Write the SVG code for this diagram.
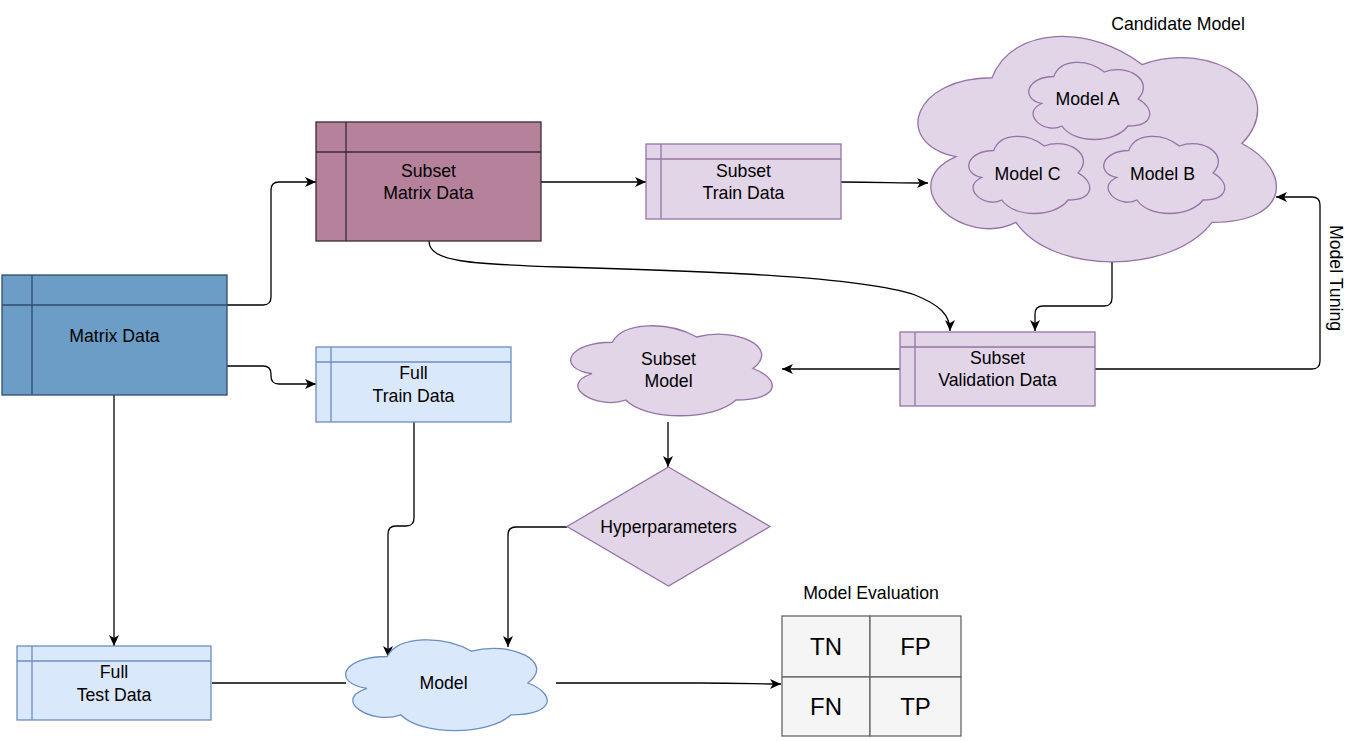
<svg xmlns="http://www.w3.org/2000/svg" width="1360" height="741" viewBox="0 0 1360 741">
<defs>
<style>
text{font-family:"Liberation Sans",Arial,Helvetica,sans-serif;font-size:17.7px;fill:#000;text-anchor:middle}
.big{font-size:24px}
.edge{fill:none;stroke:#000;stroke-width:1.3}
.arr{marker-end:url(#arrow)}
.blue{fill:#6c9dc6;stroke:#2f4c72;stroke-width:1.3}
.mauve{fill:#b5819b;stroke:#3b2a36;stroke-width:1.3}
.lblue{fill:#dae8fc;stroke:#6c8ebf;stroke-width:1.3}
.lpurp{fill:#e1d5e7;stroke:#9673a6;stroke-width:1.3}
.cm{fill:#f5f5f5;stroke:#666666;stroke-width:1.3}
.ln{fill:none}
</style>
<marker id="arrow" markerUnits="userSpaceOnUse" markerWidth="12" markerHeight="12" viewBox="0 0 12 12" refX="11" refY="6" orient="auto">
<path d="M0,1 L11,6 L0,11 L3,6 Z" fill="#000"/>
</marker>
</defs>

<g id="connectors">
<path class="edge arr" d="M227,305 H263 Q271,305 271,297 V190 Q271,182 279,182 H316"/>
<path class="edge arr" d="M227,366 H263 Q271,366 271,374 V376 Q271,384 279,384 H316"/>
<path class="edge arr" d="M114,395 V646"/>
<path class="edge arr" d="M541,182 H646"/>
<path class="edge arr" d="M841,182 C880,182 895,183 928,183"/>
<path class="edge arr" d="M429,241 C429,262 470,264 560,267 C700,271 860,276 915,295 C940,305 950,315 950,331"/>
<path class="edge arr" d="M1112,262 V298 Q1112,306 1104,306 H1043 Q1035,306 1035,314 V331"/>
<path class="edge arr" d="M1095,369 H1312 Q1320,369 1320,361 V205 Q1320,197 1312,197 H1276"/>
<path class="edge arr" d="M900,369 H782"/>
<path class="edge arr" d="M668,422 V467"/>
<path class="edge arr" d="M567,527 H516 Q508,527 508,535 V647"/>
<path class="edge arr" d="M414,422 V518 Q414,526 406,526 H396 Q388,526 388,534 V657"/>
<path class="edge" d="M212,683 H346"/>
<path class="edge arr" d="M556,683 L700,683 C740,683 760,684 781,684"/>
<text transform="translate(1329.5,278) rotate(90)">Model Tuning</text>
</g>

<g id="matrix-data">
<rect class="blue" x="2" y="275" width="225" height="120"/>
<path class="blue ln" d="M32,275 V395 M2,305 H227"/>
<text x="114.5" y="341.5">Matrix Data</text>
</g>

<g id="subset-matrix-data">
<rect class="mauve" x="316" y="122" width="225" height="119"/>
<path class="mauve ln" d="M346,122 V241 M316,152 H541"/>
<text x="428.5" y="176.5">Subset</text>
<text x="428.5" y="199">Matrix Data</text>
</g>

<g id="full-train-data">
<rect class="lblue" x="316" y="347" width="195" height="75"/>
<path class="lblue ln" d="M331,347 V422 M316,362 H511"/>
<text x="413.5" y="379">Full</text>
<text x="413.5" y="402">Train Data</text>
</g>

<g id="full-test-data">
<rect class="lblue" x="17" y="646" width="194" height="74"/>
<path class="lblue ln" d="M32,646 V720 M17,661 H211"/>
<text x="114" y="677.5">Full</text>
<text x="114" y="700.5">Test Data</text>
</g>

<g id="subset-train-data">
<rect class="lpurp" x="646" y="144" width="195" height="75"/>
<path class="lpurp ln" d="M661,144 V219 M646,159 H841"/>
<text x="743.5" y="177">Subset</text>
<text x="743.5" y="199">Train Data</text>
</g>

<g id="subset-validation-data">
<rect class="lpurp" x="900" y="332" width="195" height="74"/>
<path class="lpurp ln" d="M915,332 V406 M900,347 H1095"/>
<text x="997.5" y="364">Subset</text>
<text x="997.5" y="386">Validation Data</text>
</g>

<g id="candidate-model">
<path class="lpurp" d="M992,77.75 C912,77.75 892,143.5 956,156.65 C892,185.58 964,248.7 1016,222.4 C1052,275 1172,275 1212,222.4 C1292,222.4 1292,169.8 1242,143.5 C1292,90.9 1212,38.3 1142,64.6 C1092,25.15 1012,25.15 992,77.75 Z"/>
<text x="1178" y="30">Candidate Model</text>
</g>

<g id="model-a">
<path class="lpurp" d="M1053.75,76.5 C1026.75,76.5 1020,99 1041.6,103.5 C1020,113.4 1044.3,135 1061.85,126 C1074,144 1114.5,144 1128,126 C1155,126 1155,108 1138.13,99 C1155,81 1128,63 1104.38,72 C1087.5,58.5 1060.5,58.5 1053.75,76.5 Z"/>
<text x="1087.5" y="105">Model A</text>
</g>

<g id="model-c">
<path class="lpurp" d="M993.75,150.5 C966.75,150.5 960,173 981.6,177.5 C960,187.4 984.3,209 1001.85,200 C1014,218 1054.5,218 1068,200 C1095,200 1095,182 1078.13,173 C1095,155 1068,137 1044.38,146 C1027.5,132.5 1000.5,132.5 993.75,150.5 Z"/>
<text x="1027.5" y="180">Model C</text>
</g>

<g id="model-b">
<path class="lpurp" d="M1128.75,150.5 C1101.75,150.5 1095,173 1116.6,177.5 C1095,187.4 1119.3,209 1136.85,200 C1149,218 1189.5,218 1203,200 C1230,200 1230,182 1213.13,173 C1230,155 1203,137 1179.38,146 C1162.5,132.5 1135.5,132.5 1128.75,150.5 Z"/>
<text x="1162.5" y="180">Model B</text>
</g>

<g id="subset-model">
<path class="lpurp" d="M612.25,342.25 C567.25,342.25 556,368.5 592,373.75 C556,385.3 596.5,410.5 625.75,400 C646,421 713.5,421 736,400 C781,400 781,379 752.88,368.5 C781,347.5 736,326.5 696.63,337 C668.5,321.25 623.5,321.25 612.25,342.25 Z"/>
<text x="668.5" y="364.5">Subset</text>
<text x="668.5" y="386.5">Model</text>
</g>

<g id="hyperparameters">
<path class="lpurp" d="M668.5,467 L770,526.5 L668.5,586 L567,526.5 Z"/>
<text x="668.5" y="533">Hyperparameters</text>
</g>

<g id="model">
<path class="lblue" d="M387.25,656.5 C342.25,656.5 331,683 367,688.3 C331,699.96 371.5,725.4 400.75,714.8 C421,736 488.5,736 511,714.8 C556,714.8 556,693.6 527.88,683 C556,661.8 511,640.6 471.63,651.2 C443.5,635.3 398.5,635.3 387.25,656.5 Z"/>
<text x="443.5" y="689">Model</text>
</g>

<g id="model-evaluation">
<text x="871" y="599">Model Evaluation</text>
<rect class="cm" x="782" y="616" width="88" height="61"/>
<rect class="cm" x="870" y="616" width="91" height="61"/>
<rect class="cm" x="782" y="677" width="88" height="59"/>
<rect class="cm" x="870" y="677" width="91" height="59"/>
<text class="big" x="826" y="655">TN</text>
<text class="big" x="915.5" y="655">FP</text>
<text class="big" x="826" y="715">FN</text>
<text class="big" x="915.5" y="715">TP</text>
</g>
</svg>
